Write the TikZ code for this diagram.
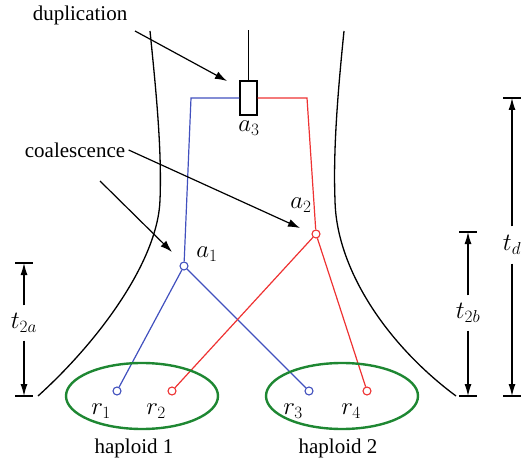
\documentclass[tikz,border=0pt]{standalone}
\usepackage{fontspec}
\setmainfont{Liberation Serif}
\newfontfamily\labelfont{Liberation Serif}
\usetikzlibrary{arrows.meta}
\definecolor{treeblue}{RGB}{65,80,190}
\definecolor{treered}{RGB}{238,50,50}
\definecolor{hapgreen}{RGB}{30,135,50}

\begin{document}
\begin{tikzpicture}[x=1pt,y=-1pt,
  lbl/.style={font=\labelfont\fontsize{21}{24}\selectfont},
  sym/.style={font=\fontsize{25}{27}\selectfont,inner sep=1pt},
  node/.style={circle,draw=#1,fill=white,line width=1.1pt,inner sep=0pt,minimum size=8pt},
  pointer/.style={-{Latex[length=12pt,width=8pt]},line width=1.2pt},
  dimarrow/.style={-{Latex[length=12pt,width=7pt]},line width=1.2pt},
  branch/.style={draw=#1,line width=1.2pt}]
  \useasboundingbox (0,0) rectangle (524,473);

  % population boundaries
  \draw[line width=1.3pt] (150,31) .. controls (156,90) and (162,150) .. (160,200)
     .. controls (158,260) and (100,340) .. (38,396);
  \draw[line width=1.3pt] (344,31) .. controls (338,90) and (333,150) .. (335,200)
     .. controls (336,268) and (386,344) .. (456,396);

  % duplication
  \node[draw,line width=1.2pt,fill=white,minimum width=17pt,minimum height=34pt,inner sep=0pt] (a3) at (248.5,98) {};
  \draw[line width=1.3pt] (a3.north) -- ++(0,-50);
  \node[sym] (a3l) at (249,128) {$a_3$};

  % coalescence nodes and leaves
  \node[node=treeblue] (a1) at (184,266) {};
  \node[node=treered] (a2) at (316,234) {};
  \node[sym] at (207,254) {$a_1$};
  \node[sym] at (301,205) {$a_2$};
  \foreach \n/\x/\c in {1/117/treeblue, 2/172/treered, 3/309/treeblue, 4/367/treered}{
    \node[node=\c] (r\n) at (\x,391) {};
    \node[sym] at (\x-16,411) {$r_\n$};
  }

  % gene tree
  \draw[branch=treeblue] (a3.west) -| (191,98) -- (a1);
  \draw[branch=treered] (a3.east) -| (307,98) -- (a2);
  \draw[branch=treeblue] (a1) -- (r1);
  \draw[branch=treeblue] (a1) -- (r3);
  \draw[branch=treered] (a2) -- (r2);
  \draw[branch=treered] (a2) -- (r4);

  % haploids
  \draw[hapgreen,line width=2.4pt] (142,396) ellipse (76 and 33);
  \draw[hapgreen,line width=2.4pt] (342,396) ellipse (76 and 33);
  \node[lbl] (h1) at (134,448) {haploid 1};
  \node[lbl] (h2) at (338,448) {haploid 2};

  % annotations
  \node[lbl] (dup) at (80,15) {duplication};
  \node[lbl] (coal) at (75,150) {coalescence};
  \draw[pointer] (135,31) -- (227,81);
  \draw[pointer] (coal.east) -- (300,228);
  \draw[pointer] (100,181) -- (172,252);

  % time scales
  \foreach \x/\top in {512/98, 468/232, 24/263}{
    \draw[line width=1.2pt] (\x-9,\top) -- (\x+9,\top);
    \draw[line width=1.2pt] (\x-9,396) -- (\x+9,396);
  }
  \node[sym,inner sep=9pt] (td) at (512,245) {$t_d$};
  \node[sym,inner sep=8pt] (tb) at (468,313) {$t_{2b}$};
  \node[sym,inner sep=8pt] (ta) at (24,323) {$t_{2a}$};
  \draw[dimarrow] (td) -- (512,98);
  \draw[dimarrow] (td) -- (512,396);
  \draw[dimarrow] (tb) -- (468,232);
  \draw[dimarrow] (tb) -- (468,396);
  \draw[dimarrow] (ta) -- (24,263);
  \draw[dimarrow] (ta) -- (24,396);
\end{tikzpicture}
\end{document}
